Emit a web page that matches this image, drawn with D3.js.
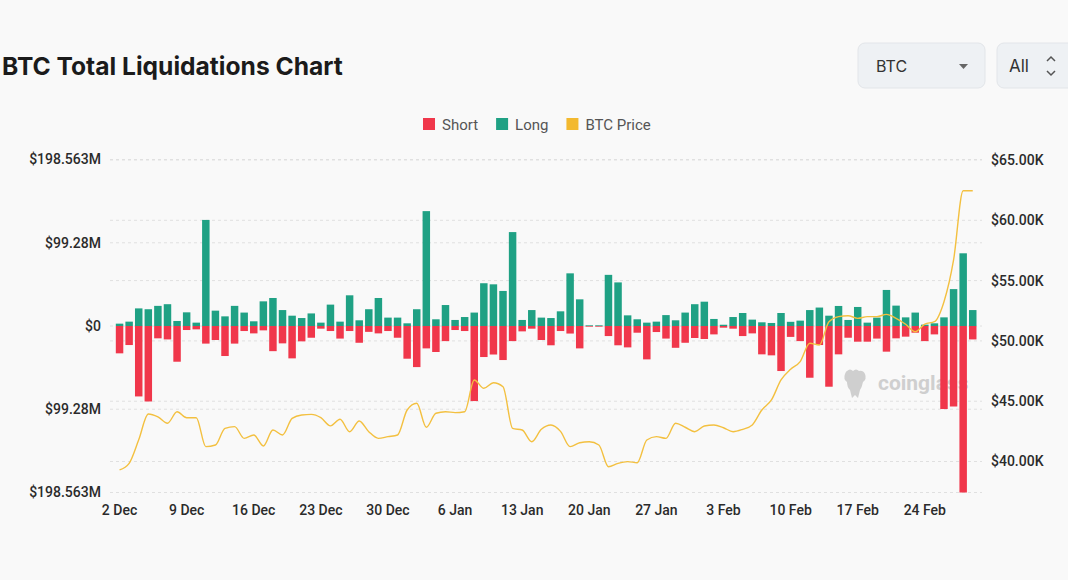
<!DOCTYPE html>
<html>
<head>
<meta charset="utf-8">
<script src="https://cdn.jsdelivr.net/npm/d3@7"></script>
<style>
  body { margin: 0; background: #f9f9f9; font-family: Inter, Roboto, "Noto Sans", sans-serif; }
  svg { display: block; }
</style>
</head>
<body>
<svg id="chart" width="1068" height="580"></svg>
<script>
// Daily liquidations (million USD), 2 Dec 2023 - 29 Feb 2024
const days = d3.timeDay.range(new Date(2023, 11, 2), new Date(2024, 2, 1));

const longLiq = [
  2.8, 5.2, 21, 20, 24, 26, 6, 16.3, 4, 126.5, 18.3, 11.5, 24, 16, 5.6, 29.4, 33.4, 19, 12.3, 9.5,
  15, 4, 25.5, 5.2, 36.6, 6.8, 20, 33.4, 10, 10,
  3.2, 20, 137, 8, 25, 7.2, 10.7, 16, 51, 49.7, 41.8, 112, 7.2, 19, 10, 9.5, 17.5, 62.8, 31.8, 0.8,
  0.8, 61, 52, 12.7, 8, 4, 5.2, 13, 6.8, 16, 26,
  29, 8.4, 1.5, 10.7, 15.5, 7.6, 4.4, 3.6, 15.5, 5, 6.4, 19, 22, 12.3, 23.9, 7.2, 22.7, 4, 10, 43,
  24.3, 10.3, 16, 1.6, 3.2, 10.3, 44, 86.7, 19
];

const shortLiq = [
  32.6, 22.7, 84, 90, 14.7, 16, 42.6, 4.8, 4, 21, 16.7, 35.8, 21, 6, 8.8, 5.2, 30, 20.7, 38.6, 18.3,
  14, 3.2, 6, 15, 6, 20, 7, 8.8, 6, 14,
  39, 49, 26.7, 31, 18, 4.8, 6, 89.5, 37, 34, 40.6, 18, 6.4, 3.2, 16.7, 23, 6, 9, 26.7, 0.8,
  0.8, 12, 23, 25.5, 8, 39.8, 7.2, 15, 26, 20, 14.3,
  15.5, 10, 2, 3.2, 12, 8.8, 33.8, 35, 53.7, 13, 18, 61.7, 22.7, 72.4, 33.8, 14, 18.7, 18.7, 15, 30.6,
  14.7, 12.7, 8, 18, 10, 99, 96, 198.563, 16
];

// BTC price (thousand USD)
const btcPrice = [
  39.3, 39.85, 41.8, 43.94, 43.7, 43.17, 44.13, 43.63, 43.63, 41.23, 41.37, 42.75, 42.89, 41.92, 42.2, 41.29, 42.61, 42.2, 43.58, 43.86,
  43.91, 43.63, 42.95, 43.5, 42.47, 43.36, 42.47, 41.92, 42.06, 42.2,
  44.27, 44.83, 42.84, 44.0, 44.13, 44.05, 44.13, 46.76, 46.07, 46.53, 46.2, 42.75, 42.61, 41.64, 42.67, 43.03, 42.5, 41.23, 41.56, 41.64,
  41.37, 39.57, 39.85, 39.99, 39.9, 41.78, 42.06, 41.92, 43.17, 42.84, 42.47,
  42.94, 43.03, 42.8, 42.47, 42.67, 43.03, 44.27, 45.1, 46.76, 47.65, 48.28, 49.8, 49.66, 51.59, 52.01, 52.09, 51.87, 52.01, 52.01, 52.2,
  51.87, 51.38, 50.76, 51.4, 51.59, 53.25, 56.71, 62.45, 62.45
];

const leftTicks = [-198.563, -99.28, 0, 99.28, 198.563];
const rightTicks = [40, 45, 50, 55, 60, 65];
const legendItems = [
  { name: 'Short', color: '#f0374b' },
  { name: 'Long', color: '#1fa184' },
  { name: 'BTC Price', color: '#f3b92f' }
];

const svg = d3.select('#chart');
const fmtDay = d3.timeFormat('%-d %b');

// Header
svg.append('text')
  .attr('x', 2).attr('y', 75)
  .attr('font-size', 24.6).attr('font-weight', 700)
  .attr('fill', '#1b1b1b')
  .text('BTC Total Liquidations Chart');

// Dropdowns
const box1 = svg.append('g').attr('transform', 'translate(858,43)');
box1.append('rect').attr('width', 127).attr('height', 45).attr('rx', 7)
  .attr('fill', '#eef1f4').attr('stroke', '#e2e5e9');
box1.append('text').attr('x', 18).attr('y', 29).attr('font-size', 16)
  .attr('fill', '#333').text('BTC');
box1.append('path').attr('d', 'M101,21 l9,0 l-4.5,5 z').attr('fill', '#666');

const box2 = svg.append('g').attr('transform', 'translate(997,43)');
box2.append('rect').attr('width', 90).attr('height', 45).attr('rx', 7)
  .attr('fill', '#eef1f4').attr('stroke', '#e2e5e9');
box2.append('text').attr('x', 12).attr('y', 29).attr('font-size', 17)
  .attr('fill', '#333').text('All');
box2.append('path').attr('d', 'M50,18 l4,-4 l4,4 M50,28 l4,4 l4,-4')
  .attr('fill', 'none').attr('stroke', '#555').attr('stroke-width', 1.5);

// Legend
const legend = svg.append('g').attr('transform', 'translate(423,124)');
let lx = 0;
legendItems.forEach(d => {
  legend.append('rect').attr('x', lx).attr('y', -6).attr('width', 12).attr('height', 12)
    .attr('fill', d.color);
  const t = legend.append('text').attr('x', lx + 19).attr('y', 5.5)
    .attr('font-size', 15).attr('fill', '#555')
    .attr('font-family', 'Roboto, sans-serif')
    .text(d.name);
  lx += 19 + t.node().getComputedTextLength() + 18;
});

// Scales
const x = d3.scaleBand()
  .domain(days)
  .range([113.7, 978.6])
  .padding(0.22);

const yLeft = d3.scaleLinear().domain([-198.563, 198.563]).range([492.5, 159.5]);
const yRight = d3.scaleLinear().domain([37.43, 65.04]).range([492.5, 159.5]);

// Grid lines (dashed)
const grid = svg.append('g').attr('stroke', '#e0e0e0').attr('stroke-dasharray', '3,3');
leftTicks.forEach(t => {
  grid.append('line').attr('x1', 110).attr('x2', 982)
    .attr('y1', yLeft(t)).attr('y2', yLeft(t));
});
rightTicks.forEach(t => {
  grid.append('line').attr('x1', 110).attr('x2', 982)
    .attr('y1', yRight(t)).attr('y2', yRight(t));
});

// Watermark
const wm = svg.append('g').attr('transform', 'translate(843,369)').attr('fill', '#cfcfcf');
wm.append('path')
  .attr('d', 'M4,2 q3,-3 6,0 q3,-3 6,0 q4,-1 6,3 q2,5 -2,8 q-1,5 -3,8 l-2,8 l-3,-3 l-3,3 l-2,-8 q-3,-3 -3,-8 q-4,-3 -2,-8 q1,-3 2,-3 z');
wm.append('text').attr('x', 35).attr('y', 21).attr('font-size', 21).attr('font-weight', 700)
  .attr('font-family', 'Roboto, sans-serif')
  .text('coinglass');

// Bars
const bars = svg.append('g');
bars.selectAll('rect.long')
  .data(days)
  .join('rect')
  .attr('class', 'long')
  .attr('x', d => x(d))
  .attr('width', x.bandwidth())
  .attr('y', (d, i) => yLeft(longLiq[i]))
  .attr('height', (d, i) => yLeft(0) - yLeft(longLiq[i]))
  .attr('fill', '#1fa184');

bars.selectAll('rect.short')
  .data(days)
  .join('rect')
  .attr('class', 'short')
  .attr('x', d => x(d))
  .attr('width', x.bandwidth())
  .attr('y', yLeft(0))
  .attr('height', (d, i) => yLeft(0) - yLeft(shortLiq[i]))
  .attr('fill', '#f0374b');

// Price line
const line = d3.line()
  .x(d => x(d[0]) + x.bandwidth() / 2)
  .y(d => yRight(d[1]))
  .curve(d3.curveMonotoneX);

svg.append('path')
  .datum(days.map((d, i) => [d, btcPrice[i]]))
  .attr('d', line)
  .attr('fill', 'none')
  .attr('stroke', '#f3c040')
  .attr('stroke-width', 1.4);

// Axes
const axisFont = 'Roboto, sans-serif';

const leftAxis = svg.append('g')
  .attr('transform', 'translate(104,0)')
  .call(d3.axisLeft(yLeft)
    .tickValues(leftTicks)
    .tickSize(0)
    .tickFormat(d => d === 0 ? '$0' : '$' + Math.abs(d) + 'M'));
leftAxis.select('.domain').remove();

const rightAxis = svg.append('g')
  .attr('transform', 'translate(988,0)')
  .call(d3.axisRight(yRight)
    .tickValues(rightTicks)
    .tickSize(0)
    .tickFormat(d => '$' + d.toFixed(2) + 'K'));
rightAxis.select('.domain').remove();

const bottomAxis = svg.append('g')
  .attr('transform', 'translate(0,502)')
  .call(d3.axisBottom(x)
    .tickValues(days.filter((d, i) => i % 7 === 0))
    .tickSize(0)
    .tickFormat(fmtDay));
bottomAxis.select('.domain').remove();

svg.selectAll('.tick text')
  .attr('font-family', axisFont)
  .attr('font-size', 14)
  .attr('font-weight', 500)
  .attr('fill', '#2b2b2b');
</script>
</body>
</html>
